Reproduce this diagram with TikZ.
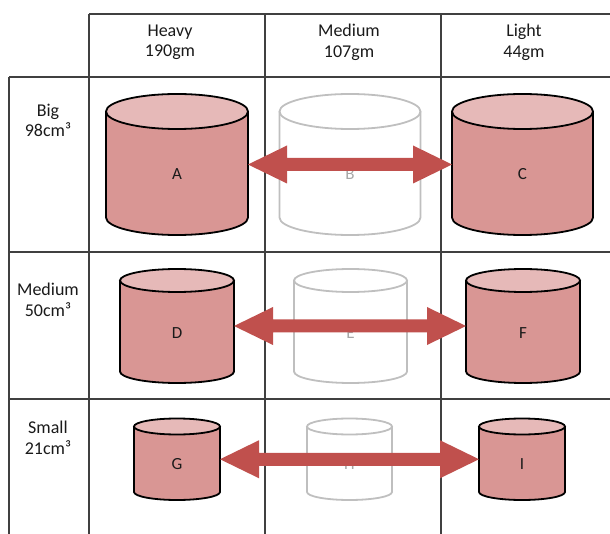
\documentclass[tikz,border=0pt]{standalone}
\usepackage{fontspec}
\setmainfont{Carlito}
\usetikzlibrary{calc}

\definecolor{cylbody}{HTML}{D99694}
\definecolor{cyltop}{HTML}{E6B9B8}
\definecolor{arrowred}{HTML}{C0504D}
\definecolor{paleline}{HTML}{BFBFBF}
\definecolor{paletext}{HTML}{A6A6A6}
\definecolor{rulecol}{HTML}{404040}
\definecolor{ink}{HTML}{1A1A1A}

\tikzset{
  tableline/.style={draw=rulecol, line width=1.1pt},
  heading/.style={align=center, font=\fontsize{18}{20.5}\selectfont, text=ink, inner sep=0pt},
  drumletter/.style={font=\fontsize{17}{20}\selectfont, inner sep=0pt},
  full fill/.style={fill=cylbody},
  full line/.style={draw=black, line width=1.8pt, line join=round},
  full cap/.style={fill=cyltop, draw=black, line width=1.8pt},
  full text/.style={text=ink},
  pale fill/.style={},
  pale line/.style={draw=paleline, line width=1.8pt, line join=round},
  pale cap/.style={draw=paleline, line width=1.8pt},
  pale text/.style={text=paletext},
  twoway/.style={fill=arrowred},
}

% #1 name, #2 centre x, #3 top ellipse y, #4 bottom ellipse y,
% #5 x radius, #6 y radius, #7 look (full/pale), #8 letter
\newcommand\drumshape[8]{%
  \path[#7 fill] ({#2-#5},#3) -- ({#2-#5},#4)
     arc[start angle=180,end angle=360,x radius=#5pt,y radius=#6pt]
     -- ({#2+#5},#3) -- cycle;
  \path[#7 line] ({#2-#5},#3) -- ({#2-#5},#4)
     arc[start angle=180,end angle=360,x radius=#5pt,y radius=#6pt]
     -- ({#2+#5},#3);
  \path[#7 cap] (#2,#3) ellipse[x radius=#5pt,y radius=#6pt];
  \node[inner sep=0pt, outer sep=0pt, minimum width={2*#5pt},
        minimum height={(#4-#3)*1pt},
        label={[drumletter, #7 text, yshift={-(#6/2+1)*1pt}]center:#8}]
        (#1) at (#2,{(#3+#4)/2}) {};
}

% double-headed block arrow between two drums
\newcommand\twowayarrow[2]{%
  \fill[twoway] (#1.east) -- ($(#1.east)+(39,-19)$) -- ($(#1.east)+(39,-6.5)$)
    -- ($(#2.west)+(-39,-6.5)$) -- ($(#2.west)+(-39,-19)$) -- (#2.west)
    -- ($(#2.west)+(-39,19)$) -- ($(#2.west)+(-39,6.5)$)
    -- ($(#1.east)+(39,6.5)$) -- ($(#1.east)+(39,19)$) -- cycle;
}

\begin{document}
\begin{tikzpicture}[x=1pt,y=-1pt]
\useasboundingbox (0,0) rectangle (610,534);

% table rules
\draw[tableline] (89,14) -- (610,14);
\draw[tableline] (9,77) -- (610,77);
\draw[tableline] (9,252) -- (610,252);
\draw[tableline] (9,399) -- (610,399);
\draw[tableline] (9,77) -- (9,534);
\draw[tableline] (89,14) -- (89,534);
\draw[tableline] (265,14) -- (265,534);
\draw[tableline] (441,14) -- (441,534);

% column and row headings
\node[heading] (hHeavy)  at (170,42.3) {Heavy\\190gm};
\node[heading] (hMedium) at (349,42.3) {Medium\\107gm};
\node[heading] (hLight)  at (524,42.3) {Light\\44gm};
\node[heading] (rBig)    at (48,120.5) {Big\\98cm³};
\node[heading] (rMedium) at (48,300)   {Medium\\50cm³};
\node[heading] (rSmall)  at (48,437.7) {Small\\21cm³};

% drums
\drumshape{A}{177}{111.5}{217.5}{71}{17.5}{full}{A}
\drumshape{B}{350}{111.5}{217.5}{70.5}{17.5}{pale}{B}
\drumshape{C}{522.5}{111.5}{217.5}{70.5}{17.5}{full}{C}

\drumshape{D}{177}{280.5}{371.5}{57}{11.5}{full}{D}
\drumshape{E}{350.5}{280.5}{371.5}{56.5}{11.5}{pale}{E}
\drumshape{F}{523}{280.5}{371.5}{57}{11.5}{full}{F}

\drumshape{G}{177}{426.5}{492}{43}{8}{full}{G}
\drumshape{H}{349.5}{426.5}{492}{42.5}{8}{pale}{H}
\drumshape{I}{522}{426.5}{492}{43}{8}{full}{I}

% arrows
\twowayarrow{A}{C}
\twowayarrow{D}{F}
\twowayarrow{G}{I}
\end{tikzpicture}
\end{document}
